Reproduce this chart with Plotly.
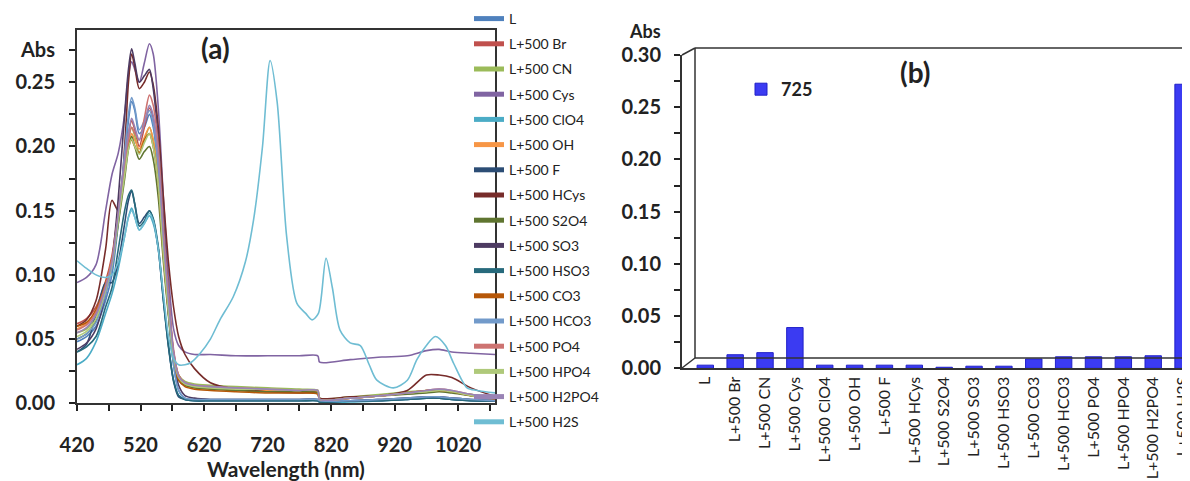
import plotly.graph_objects as go

W, H = 1190, 481
OFF = 8  # page body margin of the html page

# ---------------- Panel (a): absorption spectra ----------------
WL = [420, 435, 450, 465, 475, 485, 495, 501, 506, 511, 518, 526, 534, 540, 548,
      556, 564, 572, 580, 590, 605, 630, 670, 720, 770, 799, 802, 850, 900, 940,
      970, 990, 1010, 1040, 1080]

L_ = [0.048, 0.052, 0.060, 0.080, 0.100, 0.140, 0.190, 0.220, 0.235, 0.228, 0.210, 0.215, 0.225, 0.215, 0.180,
      0.120, 0.070, 0.030, 0.010, 0.004, 0.003, 0.003, 0.003, 0.003, 0.003, 0.003, 0.002, 0.002, 0.003, 0.004,
      0.005, 0.005, 0.004, 0.003, 0.002]
BR = [0.062, 0.066, 0.075, 0.095, 0.115, 0.150, 0.190, 0.210, 0.220, 0.213, 0.200, 0.215, 0.230, 0.222, 0.190,
      0.130, 0.080, 0.040, 0.022, 0.016, 0.013, 0.012, 0.011, 0.010, 0.009, 0.009, 0.003, 0.004, 0.006, 0.008,
      0.010, 0.010, 0.009, 0.006, 0.004]
CN = [0.055, 0.058, 0.068, 0.090, 0.110, 0.145, 0.185, 0.205, 0.215, 0.208, 0.195, 0.205, 0.215, 0.205, 0.175,
      0.120, 0.075, 0.038, 0.022, 0.017, 0.015, 0.014, 0.013, 0.012, 0.011, 0.010, 0.004, 0.005, 0.007, 0.009,
      0.010, 0.010, 0.009, 0.007, 0.004]
CYS = [0.094, 0.098, 0.108, 0.150, 0.178, 0.195, 0.225, 0.255, 0.266, 0.260, 0.250, 0.265, 0.280, 0.272, 0.230,
       0.160, 0.100, 0.058, 0.045, 0.040, 0.038, 0.038, 0.037, 0.037, 0.037, 0.037, 0.032, 0.034, 0.036, 0.037,
       0.041, 0.042, 0.040, 0.039, 0.038]
CLO4 = [0.030, 0.035, 0.048, 0.070, 0.085, 0.105, 0.130, 0.145, 0.152, 0.145, 0.135, 0.140, 0.146, 0.140, 0.120,
        0.080, 0.045, 0.018, 0.006, 0.003, 0.002, 0.002, 0.002, 0.002, 0.002, 0.002, 0.001, 0.001, 0.002, 0.003,
        0.004, 0.004, 0.003, 0.002, 0.002]
OH = [0.058, 0.062, 0.072, 0.092, 0.112, 0.145, 0.180, 0.200, 0.210, 0.205, 0.198, 0.207, 0.215, 0.205, 0.175,
      0.120, 0.075, 0.036, 0.020, 0.015, 0.013, 0.012, 0.011, 0.010, 0.009, 0.009, 0.003, 0.004, 0.006, 0.008,
      0.009, 0.010, 0.009, 0.006, 0.004]
F_ = [0.040, 0.046, 0.070, 0.094, 0.094, 0.110, 0.140, 0.158, 0.165, 0.155, 0.140, 0.145, 0.150, 0.143, 0.120,
      0.080, 0.044, 0.017, 0.005, 0.003, 0.002, 0.002, 0.002, 0.002, 0.002, 0.002, 0.001, 0.002, 0.002, 0.003,
      0.004, 0.004, 0.003, 0.002, 0.002]
HCYS = [0.060, 0.065, 0.080, 0.120, 0.158, 0.150, 0.200, 0.250, 0.272, 0.262, 0.245, 0.250, 0.258, 0.248, 0.215,
        0.160, 0.110, 0.075, 0.052, 0.038, 0.027, 0.016, 0.011, 0.009, 0.008, 0.008, 0.004, 0.005, 0.006, 0.010,
        0.022, 0.022, 0.020, 0.012, 0.005]
S2O4 = [0.050, 0.054, 0.064, 0.088, 0.108, 0.140, 0.175, 0.198, 0.208, 0.200, 0.190, 0.196, 0.200, 0.190, 0.160,
        0.110, 0.068, 0.032, 0.018, 0.014, 0.012, 0.011, 0.010, 0.009, 0.009, 0.008, 0.003, 0.004, 0.006, 0.007,
        0.008, 0.009, 0.008, 0.006, 0.004]
SO3 = [0.042, 0.047, 0.058, 0.085, 0.110, 0.160, 0.225, 0.260, 0.276, 0.265, 0.250, 0.255, 0.260, 0.245, 0.205,
       0.145, 0.085, 0.038, 0.014, 0.006, 0.004, 0.003, 0.003, 0.003, 0.003, 0.003, 0.002, 0.002, 0.003, 0.004,
       0.005, 0.005, 0.004, 0.003, 0.002]
HSO3 = [0.040, 0.044, 0.052, 0.075, 0.090, 0.120, 0.150, 0.162, 0.166, 0.155, 0.138, 0.142, 0.150, 0.144, 0.122,
        0.082, 0.045, 0.018, 0.006, 0.003, 0.002, 0.002, 0.002, 0.002, 0.002, 0.002, 0.001, 0.002, 0.002, 0.003,
        0.004, 0.004, 0.003, 0.002, 0.002]
CO3 = [0.060, 0.063, 0.073, 0.093, 0.112, 0.145, 0.180, 0.200, 0.205, 0.200, 0.195, 0.205, 0.210, 0.200, 0.170,
       0.115, 0.070, 0.034, 0.018, 0.013, 0.011, 0.010, 0.009, 0.008, 0.008, 0.007, 0.003, 0.004, 0.006, 0.008,
       0.010, 0.010, 0.009, 0.006, 0.003]
HCO3 = [0.050, 0.054, 0.063, 0.085, 0.105, 0.145, 0.195, 0.225, 0.238, 0.230, 0.213, 0.220, 0.228, 0.218, 0.183,
        0.125, 0.072, 0.030, 0.010, 0.004, 0.003, 0.003, 0.003, 0.003, 0.003, 0.003, 0.002, 0.002, 0.003, 0.004,
        0.005, 0.005, 0.004, 0.003, 0.002]
PO4 = [0.057, 0.061, 0.071, 0.092, 0.112, 0.148, 0.185, 0.205, 0.215, 0.210, 0.205, 0.222, 0.240, 0.232, 0.200,
       0.138, 0.085, 0.042, 0.022, 0.016, 0.014, 0.013, 0.012, 0.011, 0.010, 0.010, 0.003, 0.004, 0.006, 0.008,
       0.010, 0.011, 0.010, 0.007, 0.004]
HPO4 = [0.052, 0.056, 0.066, 0.088, 0.108, 0.142, 0.178, 0.198, 0.206, 0.200, 0.194, 0.203, 0.210, 0.200, 0.170,
        0.115, 0.072, 0.036, 0.020, 0.015, 0.013, 0.012, 0.011, 0.011, 0.010, 0.010, 0.003, 0.004, 0.006, 0.008,
        0.009, 0.010, 0.009, 0.006, 0.004]
H2PO4 = [0.055, 0.059, 0.069, 0.090, 0.110, 0.148, 0.190, 0.210, 0.222, 0.215, 0.205, 0.218, 0.232, 0.224, 0.190,
         0.130, 0.080, 0.040, 0.021, 0.016, 0.014, 0.013, 0.012, 0.011, 0.010, 0.010, 0.003, 0.004, 0.006, 0.008,
         0.010, 0.011, 0.010, 0.007, 0.004]

H2S_WL = [420, 435, 450, 465, 475, 485, 495, 501, 506, 511, 518, 526, 534, 540, 548, 556, 564, 572, 580, 590,
          600, 614, 630, 645, 666, 685, 698, 712, 724, 735, 750, 766, 780, 790, 800, 812, 822, 834, 850, 866,
          880, 892, 918, 940, 955, 970, 984, 1000, 1013, 1034, 1050, 1080]
H2S = [0.111, 0.105, 0.100, 0.098, 0.100, 0.110, 0.130, 0.145, 0.150, 0.145, 0.135, 0.140, 0.148, 0.142, 0.120,
       0.085, 0.052, 0.035, 0.030, 0.030, 0.032, 0.039, 0.050, 0.065, 0.083, 0.110, 0.143, 0.200, 0.267, 0.235,
       0.130, 0.078, 0.070, 0.065, 0.070, 0.113, 0.090, 0.057, 0.047, 0.045, 0.030, 0.018, 0.012, 0.018, 0.034,
       0.045, 0.052, 0.045, 0.031, 0.012, 0.010, 0.008]

SERIES_NAMES = ["L", "L+500 Br", "L+500 CN", "L+500 Cys", "L+500 ClO4", "L+500 OH", "L+500 F",
                "L+500 HCys", "L+500 S2O4", "L+500 SO3", "L+500 HSO3", "L+500 CO3", "L+500 HCO3",
                "L+500 PO4", "L+500 HPO4", "L+500 H2PO4", "L+500 H2S"]
SERIES_VALUES = [L_, BR, CN, CYS, CLO4, OH, F_, HCYS, S2O4, SO3, HSO3, CO3, HCO3, PO4, HPO4, H2PO4, H2S]
SERIES_COLORS = ["#4F81BD", "#C0504D", "#9BBB59", "#8064A2", "#4BACC6", "#F79646", "#2C4D75",
                 "#772C2A", "#5F7530", "#4D3B62", "#276A7C", "#B65708", "#729ACA", "#CD7371",
                 "#AFC97A", "#9983B5", "#6FBDD3"]

# ---------------- Panel (b): absorbance at 725 nm ----------------
BAR_CATS = SERIES_NAMES
BAR_VALS = [0.003, 0.013, 0.015, 0.039, 0.003, 0.003, 0.003, 0.003, 0.001, 0.002, 0.002,
            0.009, 0.011, 0.011, 0.011, 0.012, 0.272]
BAR_SERIES = "725"

FONT = "Lato"

fig = go.Figure()
for name, vals, col in zip(SERIES_NAMES, SERIES_VALUES, SERIES_COLORS):
    xs = H2S_WL if name == "L+500 H2S" else WL
    fig.add_trace(go.Scatter(x=xs, y=vals, name=name, mode="lines",
                             line=dict(color=col, width=1.6, shape="spline", smoothing=0.8),
                             xaxis="x", yaxis="y", legend="legend", legendgroup=name))

fig.add_trace(go.Bar(x=BAR_CATS, y=BAR_VALS, name=BAR_SERIES, width=0.55,
                     marker=dict(color="#3B3BF2", line=dict(color="#2020C8", width=1)),
                     xaxis="x2", yaxis="y2", legend="legend2"))


def pxx(x):
    return (x - OFF) / W


def pxy(y):
    return 1 - (y - OFF) / H


ax_font = dict(family=FONT, size=20, color="#222222", weight="bold")

ytick_a = [i * 0.025 for i in range(12)]
ytext_a = [("%.2f" % v if i % 2 == 0 else "") for i, v in enumerate(ytick_a)]
ytext_a[-1] = "Abs"
xtick_a = list(range(420, 1080, 50))
xtext_a = [(str(v) if (v - 420) % 100 == 0 else "") for v in xtick_a]

ytick_b = [i * 0.025 for i in range(13)]
ytext_b = [("%.2f" % v if i % 2 == 0 else "") for i, v in enumerate(ytick_b)]

fig.update_layout(
    width=W, height=H, margin=dict(l=0, r=0, t=0, b=0, autoexpand=False),
    paper_bgcolor="white", plot_bgcolor="white",
    font=dict(family=FONT, color="#222222"),
    xaxis=dict(domain=[pxx(77), pxx(495)], range=[420, 1078], tickvals=xtick_a, ticktext=xtext_a,
               ticks="outside", ticklen=6, tickwidth=2, tickcolor="#222222", ticklabelstandoff=17,
               showline=True, linewidth=2, linecolor="#333333", mirror=True, showgrid=False,
               zeroline=False, tickfont=ax_font, automargin=False,
               title=dict(text="Wavelength (nm)", font=dict(family=FONT, size=21, color="#222222", weight="bold"),
                          standoff=0)),
    yaxis=dict(domain=[pxy(403.3), pxy(30)], range=[0, 0.2907], tickvals=ytick_a, ticktext=ytext_a,
               ticks="outside", ticklen=6, tickwidth=2, tickcolor="#222222", automargin=False,
               ticklabelstandoff=10,
               showline=True, linewidth=2, linecolor="#333333", mirror=True, showgrid=False,
               zeroline=False, tickfont=ax_font),
    xaxis2=dict(domain=[pxx(682), 1.0], range=[-0.78, 16.5], type="category", tickangle=-90,
                anchor="y2", showline=True, linewidth=2, linecolor="#333333", showgrid=False, ticks="",
                automargin=False, tickfont=dict(family=FONT, size=16, color="#222222")),
    yaxis2=dict(domain=[pxy(368.3), pxy(55)], range=[0, 0.30], tickvals=ytick_b, ticktext=ytext_b,
                anchor="x2", ticks="outside", ticklen=6, tickwidth=2, tickcolor="#222222",
                ticklabelstandoff=9,
                showline=True, linewidth=2, linecolor="#333333", showgrid=False, zeroline=False,
                automargin=False, tickfont=ax_font),
    legend=dict(x=pxx(469), y=pxy(3), xanchor="left", yanchor="top", bgcolor="rgba(0,0,0,0)",
                font=dict(family=FONT, size=14, color="#222222"), traceorder="grouped", tracegroupgap=4,
                itemsizing="constant", maxheight=1.0),
    legend2=dict(x=pxx(741), y=pxy(71), xanchor="left", yanchor="top", bgcolor="rgba(0,0,0,0)",
                 font=dict(family=FONT, size=18, color="#222222", weight="bold")),
    showlegend=True,
)

# panel labels and y-axis title for (b)
for txt, (x, y), size in [("(a)", (215, 48), 28), ("(b)", (915, 72), 28), ("Abs", (645, 31), 18)]:
    fig.add_annotation(text=txt, x=pxx(x), y=pxy(y), xref="paper", yref="paper", showarrow=False,
                       xanchor="center", yanchor="middle",
                       font=dict(family=FONT, size=size, color="#222222", weight="bold"))

# pseudo-3D walls of panel (b)
wall = [((695, 48), (1200, 48)), ((695, 48), (695, 358)), ((695, 358), (1200, 358)),
        ((682, 55), (695, 48)), ((682, 368), (695, 358))]
for (x0, y0), (x1, y1) in wall:
    fig.add_shape(type="line", x0=pxx(x0), y0=pxy(y0), x1=pxx(x1), y1=pxy(y1), xref="paper", yref="paper",
                  line=dict(color="#333333", width=1.5))

fig.write_html("out.html")
